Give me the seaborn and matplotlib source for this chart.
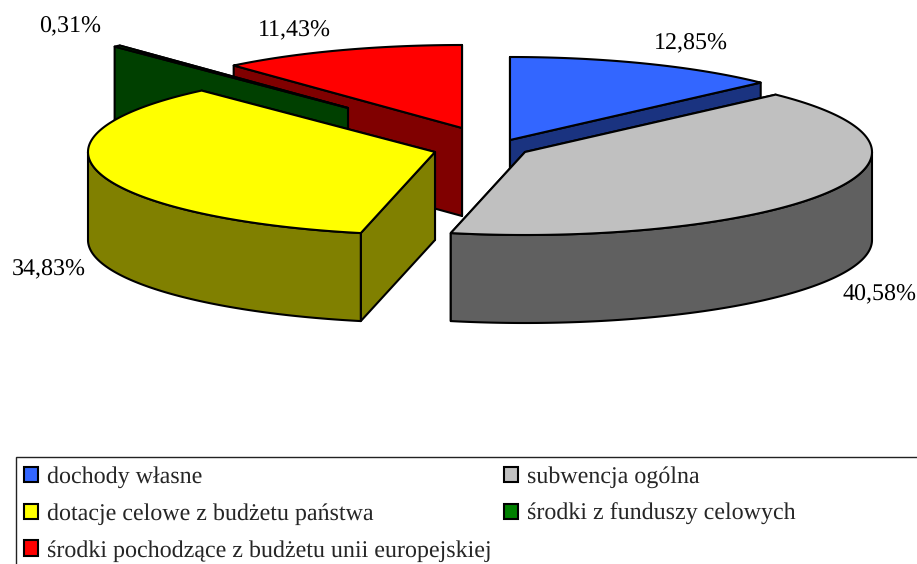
import numpy as np
import matplotlib
matplotlib.use("Agg")
import matplotlib.pyplot as plt
from matplotlib.patches import Polygon, Rectangle
import seaborn as sns

labels = ["dochody własne", "subwencja ogólna", "dotacje celowe z budżetu państwa",
          "środki z funduszy celowych", "środki pochodzące z budżetu unii europejskiej"]
shares = [12.85, 40.58, 34.83, 0.31, 11.43]
colors = ["#3366FF", "#C0C0C0", "#FFFF00", "#008000", "#FF0000"]

# pie layout, in pixels
RX, RY, DEPTH = 347, 83, 88
CENTRE = (460, 130)
explode_x = [50, 65, -25, -112, 2]
explode_y = [10, 22, 22, -22, -2]
label_pos = [(691, 44), (880, 295), (49, 270), (70, 27), (294, 31)]
draw_order = [4, 3, 0, 2, 1]

sns.set_theme(style="white")
plt.rcParams["font.family"] = ["Liberation Serif", "DejaVu Serif"]
plt.rcParams["text.hinting"] = "no_hinting"
plt.rcParams["text.hinting_factor"] = 1
FONT = 17.2

fig = plt.figure(figsize=(9.17, 5.64), dpi=100)
ax = fig.add_axes([0, 0, 1, 1])
ax.set_xlim(0, 917)
ax.set_ylim(564, 0)
ax.axis("off")


def rim(cx, cy, a0, a1):
    # clockwise from 12 o'clock, on the flattened ellipse
    t = np.radians(np.linspace(a0, a1, max(int(a1 - a0) * 2, 2)))
    return np.column_stack([cx + RX * np.sin(t), cy - RY * np.cos(t)])


def draw_slice(cx, cy, a0, a1, color):
    side = tuple(c * 0.5 for c in matplotlib.colors.to_rgb(color))
    apex = np.array([[cx, cy]])
    down = np.array([0, DEPTH])
    style = dict(edgecolor="black", linewidth=1.5, joinstyle="round")
    arc = rim(cx, cy, a0, a1)
    # the cut lying lower on screen has to come last
    for end in sorted((arc[:1], arc[-1:]), key=lambda e: e[0, 1]):
        wall = np.vstack([apex, end, end + down, apex + down])
        ax.add_patch(Polygon(wall, facecolor=side, **style))
    lo, hi = max(a0, 90), min(a1, 270)
    if hi > lo:
        front = rim(cx, cy, lo, hi)
        ax.add_patch(Polygon(np.vstack([front, (front + down)[::-1]]), facecolor=side, **style))
    ax.add_patch(Polygon(np.vstack([apex, arc]), facecolor=color, **style))


edges = np.concatenate([[0], np.cumsum(shares)]) / sum(shares) * 360
for i in draw_order:
    draw_slice(CENTRE[0] + explode_x[i], CENTRE[1] + explode_y[i], edges[i], edges[i + 1], colors[i])

for share, (x, y) in zip(shares, label_pos):
    ax.text(x, y, f"{share:.2f}%".replace(".", ","), ha="center", va="center",
            fontsize=FONT, color="black")

# legend frame runs off the right side of the picture
ax.add_patch(Rectangle((16, 457), 1000, 200, facecolor="white", edgecolor="#222222",
                       linewidth=1.0, clip_on=True))
handles = [Rectangle((0, 0), 1, 1, facecolor=c, edgecolor="black", linewidth=1.5) for c in colors]
order = [0, 2, 4, 1, 3]
ax.legend([handles[i] for i in order], [labels[i] for i in order], ncols=2, frameon=False,
          loc="upper left", bbox_to_anchor=(18 / 917, 1 - 460 / 564), borderaxespad=0,
          borderpad=0.25, fontsize=FONT, handlelength=0.6, handleheight=0.6,
          handletextpad=0.38, labelspacing=0.63, columnspacing=0.5)

fig.savefig("out.png", dpi=100)
